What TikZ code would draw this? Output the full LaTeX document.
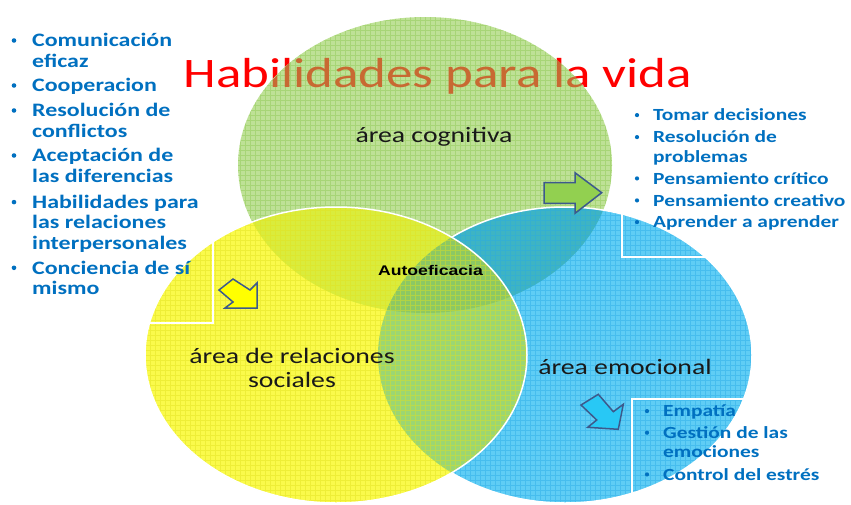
\documentclass[tikz,border=0pt]{standalone}
\usepackage{fontspec}
\newfontfamily\calr[FakeStretch=1.26]{Carlito}
\newfontfamily\arl[FakeStretch=1.26]{Liberation Sans}
\definecolor{cG}{RGB}{190,225,150}
\definecolor{cGl}{RGB}{140,200,80}
\definecolor{cY}{RGB}{250,250,75}
\definecolor{cYl}{RGB}{225,225,30}
\definecolor{cB}{RGB}{95,205,245}
\definecolor{cBl}{RGB}{40,170,230}
\definecolor{cGY}{RGB}{218,236,60}
\definecolor{cGB}{RGB}{62,180,195}
\definecolor{cYB}{RGB}{155,214,115}
\definecolor{cGYB}{RGB}{140,200,100}
\definecolor{listblue}{RGB}{0,112,192}
\definecolor{titlered}{RGB}{255,0,0}
\definecolor{titlebrown}{RGB}{200,105,50}
\definecolor{arrowline}{RGB}{60,90,140}
\definecolor{agreen}{RGB}{146,208,80}
\definecolor{ayellow}{RGB}{255,255,0}
\definecolor{ablue}{RGB}{40,200,245}
\def\Gell{(425,165) ellipse [x radius=187pt, y radius=148pt]}
\def\Yell{(336,355) ellipse [x radius=191pt, y radius=148pt]}
\def\Bell{(565,355) ellipse [x radius=187pt, y radius=148pt]}
\begin{document}
\begin{tikzpicture}[x=1pt,y=-1pt,
  lst/.style={anchor=base west, inner sep=0pt, text=listblue, font=\calr\bfseries\fontsize{19}{21}\selectfont},
  lsts/.style={anchor=base west, inner sep=0pt, text=listblue, font=\calr\bfseries\fontsize{17}{19}\selectfont},
  bul/.style={circle, fill=listblue, inner sep=0pt, minimum size=4.6pt, yshift=6.2pt},
  buls/.style={circle, fill=listblue, inner sep=0pt, minimum size=4.2pt, yshift=5.6pt},
  lbl/.style={anchor=base, inner sep=0pt, text=black!90, font=\calr\fontsize{22}{24}\selectfont},
  ttl/.style={anchor=base west, inner sep=0pt, font=\calr\fontsize{42}{46}\selectfont},
  blockarrow/.style={draw=arrowline, line width=1.5pt, line join=miter},
  gridline/.style={line width=0.45pt, opacity=0.45},
  rim/.style={draw=white, line width=1.5pt},
  boxline/.style={draw=white, line width=1.2pt}]
\useasboundingbox (0,0) rectangle (851,504);
\fill[white] (0,0) rectangle (851,504);
% title (under the green area)
\node[ttl, text=titlered] (title) at (183,87) {Habilidades para la vida};
% green area
\fill[cG] \Gell;
\begin{scope}
  \clip \Gell;
  \draw[gridline, cGl, step=5pt] (230,10) grid (620,320);
  \node[ttl, text=titlebrown] (titleb) at (183,87) {Habilidades para la vida};
\end{scope}
% blue area
\fill[cB] \Bell;
\begin{scope}
  \clip \Gell;
  \fill[cGB] \Bell;
\end{scope}
\begin{scope}
  \clip \Bell;
  \draw[gridline, cBl, step=5pt] (370,200) grid (760,510);
\end{scope}
\draw[rim] \Bell;
% yellow area
\fill[cY] \Yell;
\begin{scope}
  \clip \Yell;
  \fill[cGY] \Gell;
  \fill[cYB] \Bell;
  \clip \Gell;
  \fill[cGYB] \Bell;
\end{scope}
\begin{scope}
  \clip \Yell;
  \draw[gridline, cYl, step=5pt] (140,200) grid (530,510);
\end{scope}
\draw[rim] \Yell;
% text box outlines
\draw[boxline] (2,22) rectangle (213,323);
\draw[boxline] (622,100) rectangle (860,257);
\draw[boxline] (632,399) rectangle (860,520);
% block arrows
\draw[blockarrow, fill=agreen] (544,182.7) -- (575,182.7) -- (575,172.7) -- (601.7,192.7) -- (575,213.3) -- (575,203.3) -- (544,203.3) -- cycle;
\draw[blockarrow, fill=ayellow] (233,279) -- (219,290) -- (233,302) -- (225,308) -- (257,308) -- (257,283) -- (250,290) -- cycle;
\draw[blockarrow, fill=ablue] (598.3,394.3) -- (581,405) -- (596.7,420) -- (587.7,427.3) -- (618.3,429.3) -- (623.3,404.3) -- (613.3,411.7) -- cycle;
% area labels
\node[lbl] (cog) at (434,142) {área cognitiva};
\node[lbl] (soc1) at (292,363.3) {área de relaciones};
\node[lbl] (soc2) at (292,387.3) {sociales};
\node[lbl] (emo) at (625,374) {área emocional};
\node[anchor=base, inner sep=0pt, font=\arl\bfseries\fontsize{14}{16}\selectfont] (autoef) at (430.5,275) {Autoeficacia};
% left list
\node[bul] (lb1) at (14,46.7) {};
\node[lst] (l1a) at (32,46.7) {Comunicación};
\node[lst] (l1b) at (32,67.3) {eficaz};
\node[bul] (lb2) at (14,91.7) {};
\node[lst] (l2a) at (32,91.7) {Cooperacion};
\node[bul] (lb3) at (14,116.7) {};
\node[lst] (l3a) at (32,116.7) {Resolución de};
\node[lst] (l3b) at (32,137.3) {conflictos};
\node[bul] (lb4) at (14,161.7) {};
\node[lst] (l4a) at (32,161.7) {Aceptación de};
\node[lst] (l4b) at (32,182.7) {las diferencias};
\node[bul] (lb5) at (14,208.3) {};
\node[lst] (l5a) at (32,208.3) {Habilidades para};
\node[lst] (l5b) at (32,228.3) {las relaciones};
\node[lst] (l5c) at (32,249.3) {interpersonales};
\node[bul] (lb6) at (14,274) {};
\node[lst] (l6a) at (32,274) {Conciencia de sí};
\node[lst] (l6b) at (32,294) {mismo};
% right list
\node[buls] (rb1) at (637,120.7) {};
\node[lsts] (r1a) at (653,120.7) {Tomar decisiones};
\node[buls] (rb2) at (637,142.7) {};
\node[lsts] (r2a) at (653,142.7) {Resolución de};
\node[lsts] (r2b) at (653,162) {problemas};
\node[buls] (rb3) at (637,184) {};
\node[lsts] (r3a) at (653,184) {Pensamiento crítico};
\node[buls] (rb4) at (637,206) {};
\node[lsts] (r4a) at (653,206) {Pensamiento creativo};
\node[buls] (rb5) at (637,227.7) {};
\node[lsts] (r5a) at (653,227.7) {Aprender a aprender};
% bottom right list
\node[buls] (eb1) at (647,416.7) {};
\node[lsts] (e1a) at (663,416.7) {Empatía};
\node[buls] (eb2) at (647,438.3) {};
\node[lsts] (e2a) at (663,438.3) {Gestión de las};
\node[lsts] (e2b) at (663,457.3) {emociones};
\node[buls] (eb3) at (647,480) {};
\node[lsts] (e3a) at (663,480) {Control del estrés};
\end{tikzpicture}
\end{document}
